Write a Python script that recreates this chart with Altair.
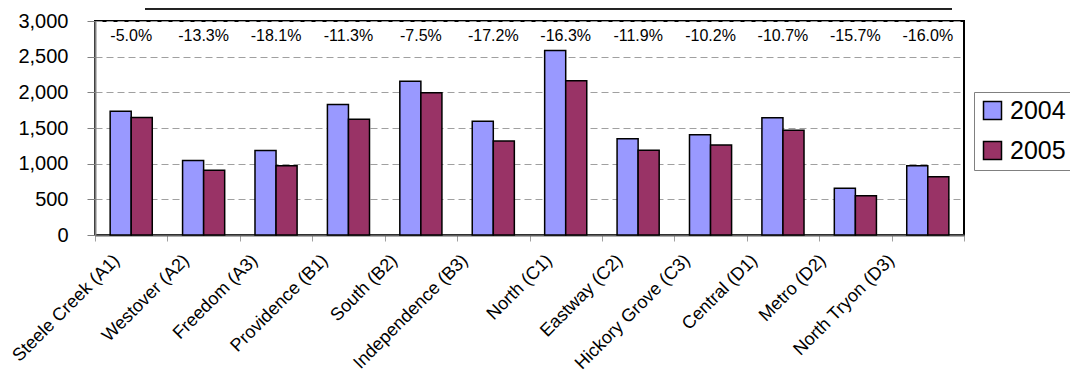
import json
import altair as alt
import pandas as pd

districts = ["Steele Creek (A1)", "Westover (A2)", "Freedom (A3)", "Providence (B1)",
             "South (B2)", "Independence (B3)", "North (C1)", "Eastway (C2)",
             "Hickory Grove (C3)", "Central (D1)", "Metro (D2)", "North Tryon (D3)"]
years = ["2004", "2005"]
values_2004 = [1735, 1045, 1185, 1830, 2155, 1593, 2585, 1350, 1407, 1643, 654, 972]
values_2005 = [1648, 906, 970, 1623, 1993, 1319, 2164, 1189, 1263, 1467, 551, 816]
pct_change = ["-5.0%", "-13.3%", "-18.1%", "-11.3%", "-7.5%", "-17.2%", "-16.3%",
              "-11.9%", "-10.2%", "-10.7%", "-15.7%", "-16.0%"]
y_ticks = [0, 500, 1000, 1500, 2000, 2500, 3000]

# label drift (style): horizontal shift of each rotated tick label, in px
label_shift = [-21, -24, -28, -30, -33, -35, -23, -25, -30, -35, -39, -43]

rows = []
for d, a, b in zip(districts, values_2004, values_2005):
    rows.append({"district": d, "year": "2004", "value": a})
    rows.append({"district": d, "year": "2005", "value": b})
df = pd.DataFrame(rows)
pct_df = pd.DataFrame({"district": districts, "pct": pct_change})

FONT = "Liberation Sans"

offset_expr = "{}[indexof({}, datum.value)]".format(json.dumps(label_shift),
                                                   json.dumps(districts))

x_enc = alt.X("district:N", sort=districts,
              scale=alt.Scale(paddingInner=0, paddingOuter=0),
              axis=alt.Axis(title=None, labelAngle=-45, labelFontSize=18,
                            labelColor="black", labelAlign="right",
                            labelBaseline="top",
                            labelOffset=alt.ExprRef(expr=offset_expr),
                            tickBand="extent", tickSize=6,
                            tickColor="#a0a0a0", domainColor="#606060",
                            domainWidth=2, labelPadding=10))

bars = alt.Chart(df).mark_bar(stroke="black", strokeWidth=1.5).encode(
    x=x_enc,
    xOffset=alt.XOffset("year:N", sort=years,
                        scale=alt.Scale(paddingOuter=0.72, paddingInner=0)),
    y=alt.Y("value:Q", scale=alt.Scale(domain=[0, 3000], nice=False),
            axis=alt.Axis(title=None, values=y_ticks, format=",.0f",
                          labelFontSize=20, labelColor="black", tickSize=8,
                          tickColor="#808080", labelPadding=19, grid=True,
                          gridDash=[7, 4], gridColor="#a0a0a0",
                          domainColor="#808080", domainWidth=2)),
    color=alt.Color("year:N",
                    scale=alt.Scale(domain=years, range=["#9999FF", "#993366"]),
                    legend=alt.Legend(title=None, orient="none", legendX=879,
                                      legendY=71, labelFontSize=25,
                                      labelColor="black", symbolType="square",
                                      symbolSize=324, symbolStrokeColor="black",
                                      symbolStrokeWidth=1.5, symbolOpacity=1,
                                      strokeColor="#808080", fillColor="white",
                                      padding=6, rowPadding=14, labelOffset=5)),
)

labels = alt.Chart(pct_df).mark_text(fontSize=16, font=FONT, color="black",
                                     baseline="middle").encode(
    x=alt.X("district:N", sort=districts),
    y=alt.value(14.5),
    text="pct:N",
)

box_edge = alt.Chart(pct_df).mark_rule(color="#222", strokeWidth=1.5).encode(
    x=alt.value(50), x2=alt.value(857), y=alt.value(-12.5)
)

chart = alt.layer(bars, labels, box_edge).properties(
    width=869, height=214,
    padding={"left": 87, "top": 13, "right": 106, "bottom": 136},
    autosize=alt.AutoSizeParams(type="none"),
).configure(font=FONT).configure_view(stroke="black", strokeWidth=2)

chart.save("out.html", embed_options={"renderer": "svg", "actions": False})
